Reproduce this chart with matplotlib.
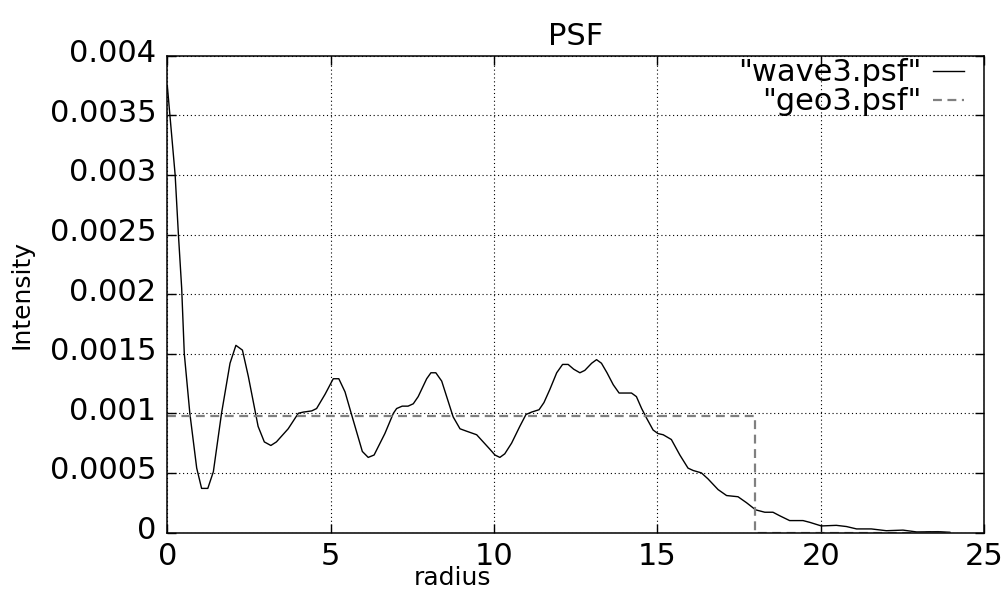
import matplotlib
matplotlib.use("Agg")
import matplotlib.pyplot as plt
import matplotlib.transforms as mtransforms

# ---- data ----
wave_x = [0.00, 0.08, 0.24, 0.34, 0.44, 0.52, 0.69, 0.90, 1.05, 1.24, 1.41, 1.66, 1.92,
          2.10, 2.30, 2.48, 2.78, 2.97, 3.17, 3.34, 3.70, 4.01, 4.16, 4.42, 4.57, 4.83,
          5.08, 5.25, 5.44, 5.64, 5.97, 6.15, 6.33, 6.66, 6.92, 7.02, 7.19, 7.37, 7.53,
          7.68, 7.94, 8.07, 8.22, 8.40, 8.75, 8.96, 9.16, 9.47, 9.67, 9.87, 10.03, 10.18,
          10.33, 10.54, 10.79, 10.98, 11.15, 11.38, 11.53, 11.71, 11.92, 12.10, 12.27,
          12.44, 12.63, 12.78, 12.99, 13.14, 13.29, 13.46, 13.65, 13.83, 14.01, 14.21,
          14.36, 14.52, 14.67, 14.87, 15.02, 15.18, 15.43, 15.69, 15.94, 16.10, 16.35,
          16.55, 16.86, 17.12, 17.47, 17.73, 18.01, 18.29, 18.54, 18.75, 19.05, 19.46,
          19.67, 20.02, 20.48, 20.79, 21.10, 21.55, 22.01, 22.52, 22.93, 23.60, 23.95]
wave_y = [0.00375, 0.00350, 0.00300, 0.00250, 0.00205, 0.00150, 0.00100, 0.00054, 0.00037,
          0.00037, 0.00051, 0.00100, 0.00142, 0.00157, 0.00153, 0.00131, 0.00089, 0.00076,
          0.00073, 0.00076, 0.00087, 0.00100, 0.00101, 0.00102, 0.00104, 0.00116, 0.00129,
          0.00129, 0.00118, 0.00099, 0.00068, 0.00063, 0.00065, 0.00083, 0.00100, 0.00104,
          0.00106, 0.00106, 0.00108, 0.00114, 0.00129, 0.00134, 0.00134, 0.00127, 0.00097,
          0.00087, 0.00085, 0.00082, 0.00076, 0.00070, 0.00065, 0.00063, 0.00066, 0.00075,
          0.00089, 0.00099, 0.00101, 0.00103, 0.00109, 0.00120, 0.00134, 0.00141, 0.00141,
          0.00137, 0.00134, 0.00136, 0.00142, 0.00145, 0.00142, 0.00134, 0.00124, 0.00117,
          0.00117, 0.00117, 0.00114, 0.00104, 0.00096, 0.00086, 0.00083, 0.00082, 0.00078,
          0.00065, 0.00054, 0.00052, 0.00050, 0.00045, 0.00036, 0.00031, 0.00030, 0.00025,
          0.00019, 0.00017, 0.00017, 0.00014, 0.00010, 0.00010, 0.000085, 0.000055,
          0.00006, 0.00005, 0.00003, 0.00003, 0.000015, 0.00002, 0.000005, 0.000007,
          0.000002]

geo_x = [0.0, 18.0, 18.0, 24.0]
geo_y = [0.00098, 0.00098, 0.0, 0.0]

x_ticks = [0, 5, 10, 15, 20, 25]
y_ticks = [0, 0.0005, 0.001, 0.0015, 0.002, 0.0025, 0.003, 0.0035, 0.004]
y_tick_labels = ["0", "0.0005", "0.001", "0.0015", "0.002", "0.0025", "0.003", "0.0035", "0.004"]

plt.rcParams['font.family'] = ['DejaVu Sans']

fig = plt.figure(figsize=(10.08, 5.94), dpi=100)
ax = fig.add_axes([167.3 / 1008, 1 - 532.5 / 594, (984 - 167.3) / 1008, (532.5 - 55.7) / 594])

ax.plot(wave_x, wave_y, color='black', lw=1.0, label='"wave3.psf"')
ax.plot(geo_x, geo_y, color='#808080', lw=1.6, linestyle=(0, (4, 2.5)), label='"geo3.psf"')

ax.set_xlim(0, 25)
ax.set_ylim(0, 0.004)
ax.set_xticks(x_ticks)
ax.set_xticklabels([str(t) for t in x_ticks])
ax.set_yticks(y_ticks)
ax.set_yticklabels(y_tick_labels)

ax.tick_params(axis='both', direction='in', length=6.5, width=1.0, labelsize=22,
               top=True, right=True, colors='black')
ax.tick_params(axis='y', pad=8)
ax.tick_params(axis='x', pad=6.5)

# gnuplot places the y tick labels slightly above the tick
off = mtransforms.ScaledTranslation(0, 5 / 100, fig.dpi_scale_trans)
for lab in ax.get_yticklabels():
    lab.set_transform(lab.get_transform() + off)

ax.grid(True, color='black', lw=0.8, linestyle=(0, (1, 2.5)))
for sp in ax.spines.values():
    sp.set_linewidth(1.1)

ax.set_title('PSF', fontsize=22, pad=8)
ax.set_ylabel('Intensity', fontsize=18)
ax.yaxis.set_label_coords((33 - 167.3) / 816.7, 0.5)
ax.set_xlabel('radius', fontsize=18)
ax.xaxis.set_label_coords((452 - 167.3) / 816.7, (532.5 - 566) / 476.8)

leg = ax.legend(loc='upper right', frameon=False, markerfirst=False, fontsize=22,
                handlelength=1.0, handletextpad=0.4, labelspacing=0.0,
                borderaxespad=0.0, borderpad=0.0,
                bbox_to_anchor=((964 - 167.3) / 816.7, 1 - 2.5 / 476.8))

fig.savefig('out.png', dpi=100)
